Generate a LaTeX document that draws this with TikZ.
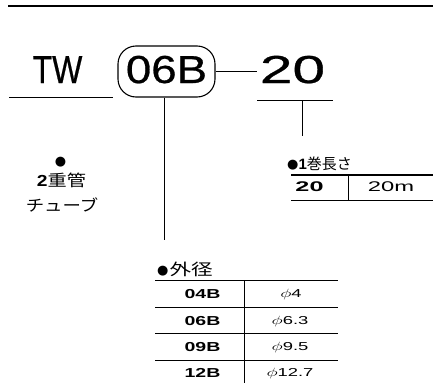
\documentclass[tikz,border=0pt]{standalone}
\usepackage{fontspec}
\setmainfont{Liberation Sans}
\newfontfamily\jp{Noto Sans CJK JP}
\newfontfamily\dv{DejaVu Sans}
\newfontfamily\bigf[FakeBold=0.6]{Liberation Sans}
\newcommand{\mybul}{\raisebox{0.8pt}{\dv\fontsize{13}{13}\selectfont ●}}
\begin{document}
\begin{tikzpicture}[x=1pt,y=-1pt,
  big/.style={font=\bigf\fontsize{39}{39}\selectfont, inner sep=0pt, anchor=base},
  rule/.style={line width=0.6pt},
  thinrule/.style={line width=0.5pt},
  jlab/.style={font=\jp\fontsize{16}{16}\selectfont, inner sep=0pt},
  bcell/.style={font=\bfseries\fontsize{13}{13}\selectfont, inner sep=0pt, xscale=1.5},
  vcell/.style={font=\fontsize{11.5}{11.5}\selectfont, inner sep=0pt, xscale=1.6}
]
\useasboundingbox (0,0) rectangle (433,383);
% top rule
\coordinate (tl) at (8,6);
\coordinate (tr) at (433,6);
\draw[line width=2pt] (tl) -- (tr);

% main code
\node[big, xscale=0.82] (tw) at (57.5,83) {TW};
\coordinate (twl) at (9,97.3);
\coordinate (twr) at (113,97.3);
\draw[thinrule] (twl) -- (twr);

\node[draw, line width=1.1pt, rounded corners=18pt, minimum width=97pt, minimum height=51pt, inner sep=0pt] (box) at (166.5,71.5) {};
\node[big, xscale=1.17] (code) at (166.5,83) {06B};

\node[big, xscale=1.5] (len) at (292.5,83) {20};
\coordinate (dashend) at (257,71.5);
\draw[line width=1.3pt] (box.east) -- (dashend);
\coordinate (ul) at (257,100.7);
\coordinate (ur) at (333,100.7);
\draw[line width=0.9pt] (ul) -- (ur);
\coordinate (tickt) at (302,100.7);
\coordinate (tickb) at (302,136);
\draw[rule] (tickt) -- (tickb);

% vertical from box
\coordinate (vend) at (164,240);
\draw[rule] (box.south -| vend) -- (vend);

% left label
\node[inner sep=0pt] (dblb) at (60.5,162) {\mybul};
\node[jlab, xscale=1.2] (dbl1) at (61.5,180.5) {{\bfseries\fontspec{Liberation Sans}2}重管};
\node[jlab, xscale=1.15] (dbl2) at (62,204.5) {チューブ};

% length table
\node[jlab, font=\jp\fontsize{15}{15}\selectfont, anchor=west] (lenh) at (287,163.5) {\mybul{\bfseries\fontspec{Liberation Sans}1}巻長さ};
\coordinate (lt1) at (291,175);
\coordinate (lt2) at (433,175);
\coordinate (lb1) at (291,200.7);
\coordinate (lb2) at (433,200.7);
\draw[line width=1.2pt] (lt1) -- (lt2);
\draw[line width=0.9pt] (lb1) -- (lb2);
\coordinate (ls1) at (348,175);
\coordinate (ls2) at (348,200.7);
\draw[rule] (ls1) -- (ls2);
\node[font=\bfseries\fontsize{14}{14}\selectfont, inner sep=0pt, xscale=1.8] (l20) at (309.5,187) {20};
\node[font=\fontsize{14}{14}\selectfont, inner sep=0pt, xscale=1.7] (l20m) at (391,187) {20m};

% diameter table
\node[jlab, anchor=west] (dh) at (157,269) {\mybul\hspace{1pt}\scalebox{1.35}[1]{外径}};
\coordinate (d0l) at (155,280.7);
\coordinate (d0r) at (338,280.7);
\draw[line width=1.4pt] (d0l) -- (d0r);
\coordinate (d1l) at (155,307);
\coordinate (d1r) at (338,307);
\draw[thinrule] (d1l) -- (d1r);
\coordinate (d2l) at (155,333.5);
\coordinate (d2r) at (338,333.5);
\draw[thinrule] (d2l) -- (d2r);
\coordinate (d3l) at (155,360);
\coordinate (d3r) at (338,360);
\draw[thinrule] (d3l) -- (d3r);
\coordinate (dst) at (244,280.7);
\coordinate (dsb) at (244,383);
\draw[thinrule] (dst) -- (dsb);

\node[bcell] (c1) at (202.5,294.3) {04B};
\node[bcell] (c2) at (202.5,321) {06B};
\node[bcell] (c3) at (202.5,347.5) {09B};
\node[bcell] (c4) at (202.5,373) {12B};
\node[vcell] (v1) at (291,294.3) {$\phi$4};
\node[vcell] (v2) at (290,321) {$\phi$6.3};
\node[vcell] (v3) at (290,347.5) {$\phi$9.5};
\node[vcell] (v4) at (290,373) {$\phi$12.7};
\end{tikzpicture}
\end{document}
